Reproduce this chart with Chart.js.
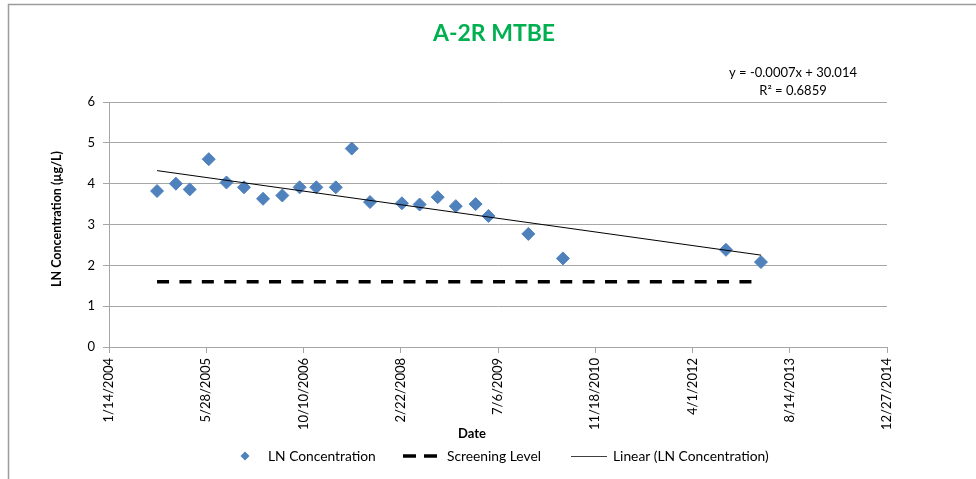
<!DOCTYPE html>
<html>
<head>
<meta charset="utf-8">
<script src="https://cdn.jsdelivr.net/npm/chart.js@4.4.1/dist/chart.umd.min.js"></script>
<style>
html,body{margin:0;padding:0;background:#fff;}
#wrap{position:relative;width:976px;height:479px;}
</style>
</head>
<body>
<div id="wrap"><canvas id="c" width="976" height="479"></canvas></div>
<script>
// ---- data ----
const sampleDates = ['2004-09-17','2004-12-23','2005-03-04','2005-06-10','2005-09-09','2005-12-08',
  '2006-03-16','2006-06-23','2006-09-20','2006-12-15','2007-03-25','2007-06-15','2007-09-17',
  '2008-02-28','2008-05-29','2008-08-30','2008-12-01','2009-03-13','2009-05-18','2009-12-09',
  '2010-06-05','2012-09-20','2013-03-19'];
const lnConcentration = [3.82,4.00,3.86,4.60,4.03,3.91,3.63,3.71,3.91,3.91,3.91,4.86,3.55,
  3.52,3.49,3.67,3.45,3.50,3.21,2.77,2.17,2.38,2.08];
const screeningDates = ['2004-09-17','2013-03-19'];
const screeningLevel = [1.6,1.6];
const trendDates = ['2004-09-17','2013-03-19'];
const trendValues = [4.32,2.25];
const xTickStart = 38000, xTickEnd = 42000, xTickStep = 500; // Excel date serials
const yTicks = [0,1,2,3,4,5,6];
const chartTitle = 'A-2R MTBE';
const equationLines = ['y = -0.0007x + 30.014','R\u00B2 = 0.6859'];

// ---- helpers ----
const EXCEL_EPOCH = Date.UTC(1899,11,30);
function toSerial(iso){const [y,m,d]=iso.split('-').map(Number);return Math.round((Date.UTC(y,m-1,d)-EXCEL_EPOCH)/86400000);}
function serialLabel(v){const d=new Date(EXCEL_EPOCH+v*86400000);return (d.getUTCMonth()+1)+'/'+d.getUTCDate()+'/'+d.getUTCFullYear();}
const pts = (ds,vs)=>ds.map((d,i)=>({x:toSerial(d),y:vs[i]}));

const FONT = 'Lato, "Liberation Sans", sans-serif';
const BLUE = '#4F81BD';
const GRID = '#A6A6A6';

const plotBox = {left:109, right:887, top:102, bottom:347};

const decor = {
  id:'decor',
  afterDraw(chart){
    const ctx = chart.ctx;
    ctx.save();
    // outer frame (partially visible)
    ctx.strokeStyle = '#9C9C9C'; ctx.lineWidth = 1.5;
    ctx.beginPath(); ctx.moveTo(8.5,479); ctx.lineTo(8.5,4.5); ctx.lineTo(976,4.5); ctx.stroke();
    // title
    ctx.fillStyle = '#00B050'; ctx.font = 'bold 23px '+FONT;
    ctx.textAlign='center'; ctx.textBaseline='middle';
    ctx.fillText(chartTitle, 494, 34);
    // equation
    ctx.fillStyle='#000'; ctx.font='13px '+FONT;
    ctx.fillText(equationLines[0], 793, 73);
    ctx.fillText(equationLines[1], 793, 91);
    // axis titles
    ctx.font='bold 13px '+FONT;
    ctx.fillText('Date', 472, 434);
    ctx.font='bold 12.5px '+FONT;
    ctx.save(); ctx.translate(57,219); ctx.rotate(-Math.PI/2);
    ctx.fillText('LN Concentration (\u00B5g/L)',0,0); ctx.restore();
    // legend
    const ly = 456;
    ctx.font='13.8px '+FONT; ctx.textAlign='left';
    ctx.fillStyle=BLUE; ctx.beginPath();
    ctx.moveTo(245,ly-4.5); ctx.lineTo(249.5,ly); ctx.lineTo(245,ly+4.5); ctx.lineTo(240.5,ly); ctx.closePath(); ctx.fill();
    ctx.fillStyle='#000'; ctx.fillText('LN Concentration', 268, ly+1);
    ctx.strokeStyle='#000'; ctx.lineWidth=3.5;
    ctx.beginPath(); ctx.moveTo(403,ly); ctx.lineTo(416,ly); ctx.moveTo(424,ly); ctx.lineTo(437,ly); ctx.stroke();
    ctx.fillText('Screening Level', 447, ly+1);
    ctx.strokeStyle='#404040'; ctx.lineWidth=1;
    ctx.beginPath(); ctx.moveTo(571,ly+0.5); ctx.lineTo(607,ly+0.5); ctx.stroke();
    ctx.fillText('Linear (LN Concentration)', 613, ly+1);
    ctx.restore();
  }
};

new Chart(document.getElementById('c'), {
  type:'scatter',
  data:{datasets:[
    {label:'LN Concentration', data:pts(sampleDates,lnConcentration), showLine:false,
     pointStyle:'rectRot', pointRadius:6.5, backgroundColor:BLUE, borderColor:BLUE, pointBorderWidth:1, order:1},
    {label:'Screening Level', data:pts(screeningDates,screeningLevel), showLine:true, pointRadius:0,
     borderColor:'#000', borderWidth:3.5, borderDash:[12,10.4], order:2},
    {label:'Linear (LN Concentration)', data:pts(trendDates,trendValues), showLine:true, pointRadius:0,
     borderColor:'#000', borderWidth:1, order:0}
  ]},
  options:{
    responsive:false, animation:false, devicePixelRatio:1,
    layout:{padding:{left:0, right:976-plotBox.right, top:plotBox.top, bottom:0}},
    plugins:{legend:{display:false}, title:{display:false}, tooltip:{enabled:false}},
    scales:{
      x:{type:'linear', min:xTickStart, max:xTickEnd,
        afterBuildTicks(s){s.ticks=[];for(let v=xTickStart;v<=xTickEnd;v+=xTickStep)s.ticks.push({value:v});},
        afterFit(s){s.height=479-plotBox.bottom;},
        grid:{drawOnChartArea:false, drawTicks:true, tickLength:6, color:GRID},
        border:{color:GRID, width:1},
        ticks:{callback:v=>serialLabel(v), minRotation:90, maxRotation:90, padding:5,
          color:'#000', font:{family:FONT, size:13}, autoSkip:false}
      },
      y:{min:0, max:6,
        afterBuildTicks(s){s.ticks=yTicks.map(v=>({value:v}));},
        afterFit(s){s.width=plotBox.left;},
        grid:{color:GRID, tickLength:6, drawTicks:true},
        border:{color:GRID, width:1},
        ticks:{color:'#000', padding:8, font:{family:FONT, size:13}}
      }
    }
  },
  plugins:[decor]
});
</script>
</body>
</html>
